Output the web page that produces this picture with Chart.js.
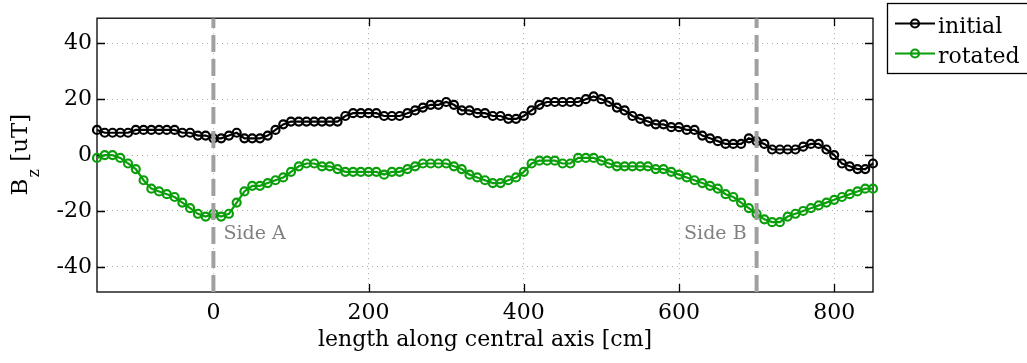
<!DOCTYPE html>
<html><head><meta charset="utf-8">
<script src="https://cdn.jsdelivr.net/npm/chart.js@4.4.1/dist/chart.umd.min.js"></script>
<style>html,body{margin:0;padding:0;background:#fff;overflow:hidden}</style>
</head><body>
<canvas id="c" width="1027" height="363"></canvas>
<script>
// ---- data ----
const positions = [
  -150,-140,-130,-120,-110,-100,-90,-80,-70,-60,
  -50,-40,-30,-20,-10,0,10,20,30,40,
  50,60,70,80,90,100,110,120,130,140,
  150,160,170,180,190,200,210,220,230,240,
  250,260,270,280,290,300,310,320,330,340,
  350,360,370,380,390,400,410,420,430,440,
  450,460,470,480,490,500,510,520,530,540,
  550,560,570,580,590,600,610,620,630,640,
  650,660,670,680,690,700,710,720,730,740,
  750,760,770,780,790,800,810,820,830,840,
  850
];
const initialValues = [
  9,8,8,8,8,9,9,9,9,9,
  9,8,8,7,7,6,6,7,8,6,
  6,6,7,9,11,12,12,12,12,12,
  12,12,14,15,15,15,15,14,14,14,
  15,16,17,18,18,19,18,16,16,15,
  15,14,14,13,13,14,16,18,19,19,
  19,19,19,20,21,20,19,17,16,14,
  13,12,11,11,10,10,9,9,7,6,
  5,4,4,4,6,5,4,2,2,2,
  2,3,4,4,2,0,-3,-4,-5,-5,
  -3
];
const rotatedValues = [
  -1,0,0,-1,-3,-5,-9,-12,-13,-14,
  -15,-17,-19,-21,-22,-21,-22,-21,-17,-13,
  -11,-11,-10,-9,-8,-6,-4,-3,-3,-4,
  -4,-5,-6,-6,-6,-6,-6,-7,-6,-6,
  -5,-4,-3,-3,-3,-3,-4,-5,-7,-8,
  -9,-10,-10,-9,-8,-6,-3,-2,-2,-2,
  -3,-3,-1,-1,-1,-2,-3,-4,-4,-4,
  -4,-4,-5,-5,-6,-7,-8,-9,-10,-11,
  -12,-14,-15,-17,-19,-21,-23,-24,-24,-22,
  -21,-20,-19,-18,-17,-16,-15,-14,-13,-12,
  -12
];
const seriesLabels = ['initial', 'rotated'];
const xTickValues = [0, 200, 400, 600, 800];
const yTickValues = [-40, -20, 0, 20, 40];
const sidePositions = [0, 700];
const sideLabels = ['Side A', 'Side B'];
const xTitle = 'length along central axis [cm]';
const yTitleParts = ['B', 'z', ' [uT]'];
const xMin = -150, xMax = 850, yMin = -49, yMax = 49;

// ---- styles ----
const FONT = "'DejaVu Serif', serif";
const seriesColors = ['#000000', '#0a9e0a'];
const sideColor = '#a0a0a0';
const sideTextColor = '#808080';

function pts(xs, ys) { return xs.map((x, i) => ({x: x, y: ys[i]})); }

const seriesSets = [initialValues, rotatedValues].map((vals, i) => ({
  label: seriesLabels[i],
  data: pts(positions, vals),
  borderColor: seriesColors[i],
  borderWidth: 2.2,
  pointRadius: 4,
  pointBorderWidth: 2.2,
  pointBackgroundColor: 'rgba(0,0,0,0)',
  pointBorderColor: seriesColors[i],
  tension: 0,
  clip: false,
  order: 2 + i
}));
const sideSets = sidePositions.map(p => ({
  label: '',
  data: [{x: p, y: yMin}, {x: p, y: yMax}],
  borderColor: sideColor,
  borderWidth: 4,
  borderDash: [17, 7],
  pointRadius: 0,
  order: 0,
  isSide: true
}));

const decor = {
  id: 'decor',
  beforeDatasetsDraw(chart) {
    const {ctx, chartArea: {left, right, top, bottom}, scales: {x, y}} = chart;
    ctx.save();
    ctx.strokeStyle = '#000';
    ctx.lineWidth = 1.3;
    ctx.strokeRect(left, top, right - left, bottom - top);
    const tl = 8;
    ctx.beginPath();
    xTickValues.forEach(v => {
      const px = Math.round(x.getPixelForValue(v)) + 0.5;
      ctx.moveTo(px, bottom); ctx.lineTo(px, bottom - tl);
      ctx.moveTo(px, top); ctx.lineTo(px, top + tl);
    });
    yTickValues.forEach(v => {
      const py = Math.round(y.getPixelForValue(v)) + 0.5;
      ctx.moveTo(left, py); ctx.lineTo(left + tl, py);
      ctx.moveTo(right, py); ctx.lineTo(right - tl, py);
    });
    ctx.stroke();
    ctx.restore();
  },
  afterDraw(chart) {
    const {ctx, chartArea: {left, right, top, bottom}, scales: {x, y}} = chart;
    ctx.save();
    // side labels
    ctx.font = "19px " + FONT;
    ctx.fillStyle = sideTextColor;
    ctx.textBaseline = 'alphabetic';
    const ly = y.getPixelForValue(-30.2);
    ctx.textAlign = 'left';
    ctx.fillText(sideLabels[0], x.getPixelForValue(sidePositions[0]) + 10, ly);
    ctx.textAlign = 'right';
    ctx.fillText(sideLabels[1], x.getPixelForValue(sidePositions[1]) - 10, ly);

    // y title with subscript
    ctx.fillStyle = '#000';
    ctx.textAlign = 'left';
    const big = "23px " + FONT, small = "16px " + FONT;
    ctx.font = big; const w0 = ctx.measureText(yTitleParts[0]).width;
    ctx.font = small; const w1 = ctx.measureText(yTitleParts[1]).width;
    ctx.font = big; const w2 = ctx.measureText(yTitleParts[2]).width;
    const total = w0 + w1 + w2;
    ctx.translate(27, (top + bottom) / 2);
    ctx.rotate(-Math.PI / 2);
    let cx = -total / 2;
    ctx.font = big; ctx.fillText(yTitleParts[0], cx, 0); cx += w0;
    ctx.font = small; ctx.fillText(yTitleParts[1], cx + 1, 12); cx += w1 + 1;
    ctx.font = big; ctx.fillText(yTitleParts[2], cx, 0);
    ctx.restore();

    // legend
    ctx.save();
    const bx = 887, by = 3, bw = 150, bh = 70;
    ctx.fillStyle = '#fff';
    ctx.fillRect(bx, by, bw, bh);
    ctx.strokeStyle = '#000'; ctx.lineWidth = 1.3;
    ctx.strokeRect(bx + 0.5, by + 0.5, bw, bh);
    const metas = chart.data.datasets.filter(d => !d.isSide);
    metas.forEach((d, i) => {
      const ry = 23.5 + i * 30;
      ctx.strokeStyle = d.borderColor; ctx.lineWidth = 2.2;
      ctx.beginPath(); ctx.moveTo(895, ry); ctx.lineTo(935, ry); ctx.stroke();
      ctx.beginPath(); ctx.arc(915, ry, 4, 0, Math.PI * 2); ctx.fillStyle = '#fff'; ctx.fill(); ctx.stroke();
      ctx.beginPath(); ctx.moveTo(911, ry); ctx.lineTo(919, ry); ctx.stroke();
      ctx.fillStyle = '#000';
      ctx.font = "22px " + FONT;
      ctx.textBaseline = 'alphabetic';
      ctx.fillText(d.label, 938, ry + 9);
    });
    ctx.restore();
  }
};

new Chart(document.getElementById('c'), {
  type: 'line',
  data: { datasets: [...sideSets, ...seriesSets] },
  options: {
    responsive: false,
    animation: false,
    devicePixelRatio: 1,
    layout: { padding: { top: 3, right: 154, left: 0, bottom: 0 } },
    plugins: { legend: { display: false }, tooltip: { enabled: false } },
    scales: {
      x: {
        type: 'linear', min: xMin, max: xMax,
        afterBuildTicks: s => { s.ticks = xTickValues.map(v => ({value: v})); },
        afterFit: s => { s.height = 71; },
        ticks: { font: { family: FONT, size: 22 }, color: '#000', padding: 8, maxRotation: 0, autoSkip: false },
        grid: { color: '#aaaaaa', lineWidth: 1, drawTicks: false },
        border: { display: false, dash: [1, 4] },
        title: { display: true, text: xTitle, color: '#000', font: { family: FONT, size: 22 }, padding: { top: 0, bottom: 10 } }
      },
      y: {
        type: 'linear', min: yMin, max: yMax,
        afterBuildTicks: s => { s.ticks = yTickValues.map(v => ({value: v})); },
        afterFit: s => { s.width = 97; },
        ticks: { font: { family: FONT, size: 22 }, color: '#000', padding: 5, autoSkip: false },
        grid: { color: '#aaaaaa', lineWidth: 1, drawTicks: false },
        border: { display: false, dash: [1, 4] }
      }
    }
  },
  plugins: [decor]
});
</script>
</body></html>
